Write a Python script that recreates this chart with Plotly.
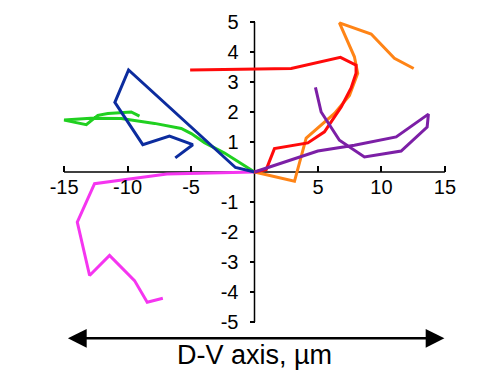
import plotly.graph_objects as go

# Trajectories (µm), each starting at the origin
blue_x = [0, -1.5, -9.92, -11.0, -8.8, -6.7, -4.86, -6.24]
blue_y = [0, 0.15, 3.40, 2.32, 0.91, 1.20, 0.91, 0.47]

green_x = [0, -1.05, -2.36, -3.94, -4.98, -5.77, -7.87, -10.5, -12.9, -15.0, -13.25, -12.34, -11.55, -9.71, -9.06]
green_y = [0, 0.28, 0.63, 0.98, 1.28, 1.45, 1.62, 1.78, 1.79, 1.73, 1.58, 1.89, 1.95, 2.00, 1.86]

orange_x = [0, 3.15, 4.07, 5.25, 6.3, 7.48, 8.13, 7.87, 6.69, 9.19, 11.02, 12.54]
orange_y = [0, -0.31, 1.13, 1.56, 1.95, 2.55, 3.29, 3.84, 4.97, 4.60, 3.79, 3.45]

red_x = [0, 0.92, 1.57, 4.2, 5.51, 6.83, 7.61, 8.0, 8.0, 6.77, 2.89, -5.07]
red_y = [0, 0.08, 0.78, 0.97, 1.34, 2.17, 2.8, 3.29, 3.56, 3.82, 3.45, 3.40]

purple_x = [0, 4.99, 7.87, 11.16, 13.7, 13.6, 11.55, 8.66, 6.69, 5.25, 4.80]
purple_y = [0, 0.70, 0.89, 1.17, 1.93, 1.50, 0.70, 0.50, 1.06, 2.0, 2.82]

pink_x = [0, -3.0, -6.9, -10.0, -12.6, -13.96, -12.99, -11.42, -9.45, -8.45, -7.22]
pink_y = [0, -0.02, -0.07, -0.24, -0.39, -1.67, -3.45, -2.78, -3.62, -4.34, -4.21]

x_ticks = [-15, -10, -5, 5, 10, 15]
y_ticks = [-5, -4, -3, -2, -1, 1, 2, 3, 4, 5]
axis_title = "D-V axis, µm"

series = [
    (pink_x, pink_y, "#f535f0"),
    (green_x, green_y, "#20d020"),
    (blue_x, blue_y, "#0c2c9e"),
    (orange_x, orange_y, "#ff8416"),
    (red_x, red_y, "#ff0a0a"),
    (purple_x, purple_y, "#7c1fa6"),
]

fig = go.Figure()
for xs, ys, col in series:
    fig.add_trace(go.Scatter(x=xs, y=ys, mode="lines",
                             line=dict(color=col, width=3), showlegend=False,
                             hoverinfo="skip"))

font = dict(family="Liberation Sans, Arial, sans-serif", color="black")

fig.update_layout(
    width=501, height=376,
    margin=dict(l=59, r=51, t=16, b=48),
    paper_bgcolor="white", plot_bgcolor="white",
    font=font,
    xaxis=dict(range=[-15.4, 15.4], anchor="free", position=0.5, automargin=False,
               showgrid=False, zeroline=False, showline=False,
               ticks="inside", ticklen=6, tickwidth=1.5, tickcolor="black",
               tickvals=x_ticks, ticktext=[str(v) for v in x_ticks],
               ticklabelstandoff=1,
               tickfont=dict(size=20, **font)),
    yaxis=dict(range=[-5.2, 5.2], anchor="free", position=0.5, automargin=False,
               showgrid=False, zeroline=False, showline=False,
               ticks="outside", ticklen=5, tickwidth=1.5, tickcolor="black",
               tickvals=y_ticks, ticktext=[str(v) for v in y_ticks],
               ticklabelstandoff=7,
               tickfont=dict(size=20, **font)),
)

# axis lines crossing at the origin
fig.add_shape(type="line", xref="x", yref="y", x0=x_ticks[0], x1=x_ticks[-1], y0=0, y1=0,
              line=dict(color="black", width=1.5), layer="below")
fig.add_shape(type="line", xref="x", yref="y", x0=0, x1=0, y0=y_ticks[0], y1=y_ticks[-1],
              line=dict(color="black", width=1.5), layer="below")

# double-headed arrow below the plot
fig.add_annotation(x=14.96, y=-0.033, xref="x", yref="paper", text="",
                   showarrow=True, axref="pixel", ayref="pixel", ax=-378, ay=0,
                   arrowside="end+start", arrowhead=2, arrowsize=1.5, arrowwidth=2.5,
                   arrowcolor="black", standoff=0, startstandoff=0)
fig.add_annotation(x=0, y=-0.088, xref="x", yref="paper", text=axis_title,
                   showarrow=False, xanchor="center", yanchor="middle",
                   font=dict(size=27, **font))

fig.write_html("out.html", config={"displayModeBar": False},
               post_script="document.body.style.margin='0';document.body.style.overflow='hidden';")
